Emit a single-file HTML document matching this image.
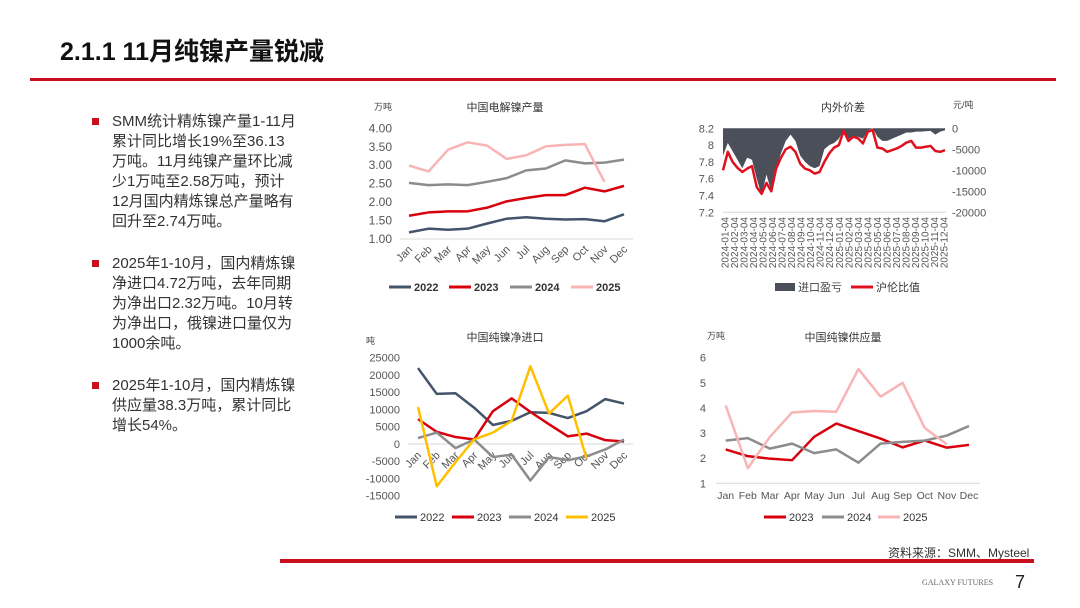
<!DOCTYPE html>
<html><head><meta charset="utf-8">
<style>
body{margin:0;width:1080px;height:608px;background:#fff;position:relative;overflow:hidden;font-family:"Liberation Sans","Noto Sans CJK SC",sans-serif;}
.title{position:absolute;left:60px;top:32px;font-size:25px;font-weight:bold;color:#111;}
.hr{position:absolute;left:30px;top:78px;width:1026px;height:3px;background:#c8101e;}
.bul{position:absolute;left:92px;width:230px;font-size:15px;line-height:20px;color:#333;}
.bul:before{content:"";position:absolute;left:0;top:6px;width:7px;height:7px;background:#c8101e;}
.bul span{display:block;margin-left:20px;white-space:nowrap;}
svg{position:absolute;left:0;top:0}
</style></head><body>
<div class="title">2.1.1 11月纯镍产量锐减</div>
<div class="hr"></div>
<div class="bul" style="top:112px"><span>SMM统计精炼镍产量1-11月<br>累计同比增长19%至36.13<br>万吨。11月纯镍产量环比减<br>少1万吨至2.58万吨，预计<br>12月国内精炼镍总产量略有<br>回升至2.74万吨。</span></div>
<div class="bul" style="top:254px"><span>2025年1-10月，国内精炼镍<br>净进口4.72万吨，去年同期<br>为净出口2.32万吨。10月转<br>为净出口，俄镍进口量仅为<br>1000余吨。</span></div>
<div class="bul" style="top:376px"><span>2025年1-10月，国内精炼镍<br>供应量38.3万吨，累计同比<br>增长54%。</span></div>
<div style="position:absolute;left:888px;top:544px;font-size:12px;color:#333">资料来源：SMM、Mysteel</div>
<div style="position:absolute;left:280px;top:559px;width:754px;height:4px;background:#c8101e"></div>
<div style="position:absolute;left:922px;top:578px;font-size:8px;color:#666;font-family:'Liberation Serif',serif">GALAXY FUTURES</div>
<div style="position:absolute;left:1015px;top:572px;font-size:18px;color:#222">7</div>
<svg id="s" width="1080" height="608"></svg>
<script>
const months=["Jan","Feb","Mar","Apr","May","Jun","Jul","Aug","Sep","Oct","Nov","Dec"];
const c1_2022=[1.18,1.28,1.25,1.28,1.42,1.55,1.59,1.55,1.53,1.54,1.48,1.67];
const c1_2023=[1.63,1.72,1.75,1.75,1.85,2.02,2.11,2.19,2.19,2.39,2.29,2.44];
const c1_2024=[2.52,2.46,2.48,2.46,2.55,2.65,2.86,2.91,3.13,3.05,3.07,3.15];
const c1_2025=[2.99,2.83,3.42,3.62,3.53,3.17,3.27,3.51,3.55,3.57,2.55];
const c1_ticks=["1.00","1.50","2.00","2.50","3.00","3.50","4.00"];
const c3_2022=[22000,14500,14700,10500,5500,6700,9200,9000,7500,9500,13000,11700];
const c3_2023=[7200,3500,2000,1300,9500,13200,9300,5700,2200,3000,1100,700];
const c3_2024=[1700,3300,-1200,1300,-3800,-3100,-10600,-3800,-4700,-3600,-1600,1300];
const c3_2025=[10700,-12300,-5300,1300,3300,6700,22500,8800,14000,-4200];
const c3_ticks=["-15000","-10000","-5000","0","5000","10000","15000","20000","25000"];
const c4_2023=[2.35,2.08,1.98,1.92,2.85,3.38,3.08,2.78,2.43,2.7,2.42,2.53];
const c4_2024=[2.7,2.8,2.38,2.58,2.2,2.35,1.82,2.58,2.65,2.7,2.9,3.28];
const c4_2025=[4.1,1.6,2.85,3.82,3.88,3.85,5.55,4.45,5.0,3.2,2.55];
const c4_ticks=["1","2","3","4","5","6"];
const c2_ratio=[7.70,7.92,7.80,7.73,7.68,7.72,7.75,7.50,7.42,7.55,7.45,7.72,7.85,7.95,7.98,7.92,7.78,7.72,7.70,7.66,7.68,7.80,7.90,7.97,8.00,8.17,8.05,8.10,8.08,8.02,8.16,8.18,7.97,7.96,7.92,7.94,7.96,7.99,8.03,8.05,7.97,7.97,7.98,7.99,7.93,7.92,7.94];
const c2_profit=[-6500,-3500,-5500,-7500,-9500,-7000,-7500,-12000,-16000,-11000,-15000,-9500,-6000,-3000,-1500,-3000,-6500,-8000,-9000,-9500,-9000,-5000,-4000,-3500,-2500,-500,-2500,-2000,-2000,-2500,-500,0,-2000,-3000,-3000,-2500,-2000,-1500,-1000,-1000,-800,-800,-700,-600,-1500,-800,-500];
const c2_left=["7.2","7.4","7.6","7.8","8","8.2"];
const c2_right=["-20000","-15000","-10000","-5000","0"];
const c2_dates=["2024-01-04","2024-02-04","2024-03-04","2024-04-04","2024-05-04","2024-06-04","2024-07-04","2024-08-04","2024-09-04","2024-10-04","2024-11-04","2024-12-04","2025-01-04","2025-02-04","2025-03-04","2025-04-04","2025-05-04","2025-06-04","2025-07-04","2025-08-04","2025-09-04","2025-10-04","2025-11-04","2025-12-04"];

const S=document.getElementById('s');const NS="http://www.w3.org/2000/svg";
function el(t,a,txt){const e=document.createElementNS(NS,t);for(const k in a)e.setAttribute(k,a[k]);if(txt!==undefined)e.textContent=txt;S.appendChild(e);return e;}
function lin(x0,x1,n){return i=>x0+(x1-x0)*i/(n-1);}
function sc(v0,v1,y0,y1){return v=>y0+(v-v0)*(y1-y0)/(v1-v0);}
function series(arr,X,Y,col,name){const p=el('polyline',{points:arr.map((v,i)=>X(i)+','+Y(v)).join(' '),fill:'none',stroke:col,'stroke-width':2.5,'stroke-linejoin':'round'});

}
function legend(items,y,bold){items.forEach(it=>{const l=el('line',{x1:it[0],y1:y,x2:it[0]+22,y2:y,stroke:it[2],'stroke-width':3});


const t=el('text',{x:it[0]+25,y:y+4,'font-size':11,fill:'#333','font-weight':bold?'bold':'normal'},it[1]);

});}
function ttl(x,y,s,n){const t=el('text',{x:x,y:y,'font-size':11,fill:'#333','text-anchor':'middle'},s);}
function unit(x,y,s,n){const t=el('text',{x:x,y:y,'font-size':9,fill:'#444'},s);}

// Chart 1
{const X=lin(409,624,12),Y=sc(1,4,239,128.3);
ttl(505,111,'中国电解镍产量','chart1-title');unit(374,110,'万吨','chart1-unit');
el('line',{x1:400,y1:239,x2:633,y2:239,stroke:'#d9d9d9'});
c1_ticks.forEach(t=>{const e=el('text',{x:392,y:Y(+t)+4,'font-size':12,fill:'#555','text-anchor':'end'},t);});
months.forEach((m,i)=>{const e=el('text',{x:X(i)+4,y:250,'font-size':11,fill:'#555','text-anchor':'end',transform:`rotate(-45 ${X(i)+4} 250)`},m);});
series(c1_2022,X,Y,'#44546a','c1-line-2022');series(c1_2023,X,Y,'#d9000d','c1-line-2023');series(c1_2024,X,Y,'#8c8c8c','c1-line-2024');series(c1_2025,X,Y,'#f9b4b4','c1-line-2025');
legend([[389,'2022','#44546a'],[449,'2023','#d9000d'],[510,'2024','#8c8c8c'],[571,'2025','#f9b4b4']],287,true);}

// Chart 2
{const n=c2_ratio.length,X=lin(723,945,n),YL=sc(7.2,8.2,212.3,128.3),YR=sc(-20000,0,212.3,128.3);
ttl(843,111,'内外价差','chart2-title');unit(953,108,'元/吨','chart2-unit');
let d='M'+X(0)+','+YR(0);c2_profit.forEach((v,i)=>d+=' L'+X(i)+','+YR(v));d+=' L'+X(n-1)+','+YR(0)+'Z';
const a=el('path',{d:d,fill:'#4a4f5a'});
series(c2_ratio,X,YL,'#e0101e','shfe-lme-ratio-line');
el('line',{x1:723,y1:212.3,x2:946,y2:212.3,stroke:'#d9d9d9'});
c2_left.forEach(t=>{const e=el('text',{x:714,y:YL(+t)+4,'font-size':11,fill:'#555','text-anchor':'end'},t);});
c2_right.forEach(t=>{const e=el('text',{x:952,y:YR(+t)+4,'font-size':11,fill:'#555'},t);});
const XD=lin(725,944,c2_dates.length);
c2_dates.forEach((s,i)=>{const e=el('text',{x:XD(i)+3.5,y:217,'font-size':10,fill:'#555','text-anchor':'end',transform:`rotate(-90 ${XD(i)+3.5} 217)`},s);});
const r=el('rect',{x:775,y:283,width:20,height:8,fill:'#4a4f5a'});
const t1=el('text',{x:798,y:291,'font-size':11,fill:'#444'},'进口盈亏');
legend([[851,'沪伦比值','#e0101e']],287,false);}

// Chart 3
{const X=lin(418,624,12),Y=sc(-15000,25000,495.7,357.7);
ttl(505,341,'中国纯镍净进口','chart3-title');unit(366,344,'吨','chart3-unit');
el('line',{x1:408,y1:Y(0),x2:633,y2:Y(0),stroke:'#d9d9d9'});
c3_ticks.forEach(t=>{const e=el('text',{x:400,y:Y(+t)+4,'font-size':11,fill:'#555','text-anchor':'end'},t);});
months.forEach((m,i)=>{const e=el('text',{x:X(i)+4,y:Y(0)+12,'font-size':11,fill:'#555','text-anchor':'end',transform:`rotate(-45 ${X(i)+4} ${Y(0)+12})`},m);});
series(c3_2022,X,Y,'#44546a','c3-line-2022');series(c3_2023,X,Y,'#d9000d','c3-line-2023');series(c3_2024,X,Y,'#8c8c8c','c3-line-2024');series(c3_2025,X,Y,'#ffc000','c3-line-2025');
legend([[395,'2022','#44546a'],[452,'2023','#d9000d'],[509,'2024','#8c8c8c'],[566,'2025','#ffc000']],517,false);}

// Chart 4
{const X=lin(725.7,969,12),Y=sc(1,6,483.3,357.7);
ttl(843,341,'中国纯镍供应量','chart4-title');unit(707,339,'万吨','chart4-unit');
el('line',{x1:716,y1:483.3,x2:980,y2:483.3,stroke:'#d9d9d9'});
c4_ticks.forEach(t=>{const e=el('text',{x:706,y:Y(+t)+4,'font-size':11,fill:'#555','text-anchor':'end'},t);});
months.forEach((m,i)=>{const e=el('text',{x:X(i),y:499,'font-size':10.5,fill:'#555','text-anchor':'middle'},m);});
series(c4_2023,X,Y,'#d9000d','c4-line-2023');series(c4_2024,X,Y,'#8c8c8c','c4-line-2024');series(c4_2025,X,Y,'#f9b4b4','c4-line-2025');
legend([[764,'2023','#d9000d'],[822,'2024','#8c8c8c'],[878,'2025','#f9b4b4']],517,false);}
</script>
</body></html>
